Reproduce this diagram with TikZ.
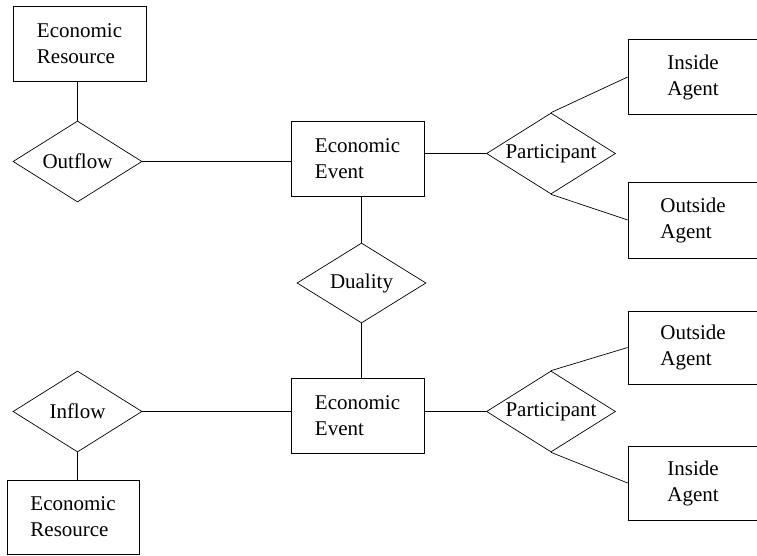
\documentclass[tikz,border=0pt]{standalone}
\usepackage{fontspec}
\setmainfont{Liberation Serif}
\usepackage{tikz}
\usetikzlibrary{shapes.geometric}

\tikzset{
  entity/.style={draw, rectangle, line width=0.7pt, minimum width=133pt, minimum height=75pt, inner sep=0pt, align=left},
  agent/.style={entity, minimum width=130pt},
  relation/.style={draw, diamond, line width=0.7pt, minimum width=129pt, minimum height=81pt, inner sep=0pt, shape aspect=1.6},
  link/.style={line width=0.7pt}
}

\begin{document}
\begin{tikzpicture}[x=1pt,y=1pt,font=\fontsize{21}{26}\selectfont]
\useasboundingbox (0,0) rectangle (757,555);
\node [entity] (res1) at (79.5,511.5) {Economic\\Resource};
\node [relation] (outflow) at (77.5,393.5) {Outflow};
\node [entity] (event1) at (357.5,396.5) {Economic\\Event};
\node [relation] (part1) at (551,401.5) {Participant};
\node [agent] (inside1) at (693,478) {Inside\\Agent};
\node [agent, minimum height=76pt] (outside1) at (693,335) {Outside\\Agent};
\node [relation, minimum height=80pt] (duality) at (361.5,272) {Duality};
\node [entity] (event2) at (357.5,139.5) {Economic\\Event};
\node [relation] (inflow) at (77.5,143.5) {Inflow};
\node [entity, minimum width=132pt, minimum height=74pt] (res2) at (73,38) {Economic\\Resource};
\node [relation] (part2) at (551,143.5) {Participant};
\node [agent, minimum height=73pt] (outside2) at (693,207.5) {Outside\\Agent};
\node [agent, minimum height=74pt] (inside2) at (693,72) {Inside\\Agent};

\draw [link] (outflow.north) -- (outflow.north |- res1.south);
\draw [link] (outflow.east) -- (outflow.east -| event1.west);
\draw [link] (part1.west -| event1.east) -- (part1.west);
\draw [link] (part1.north) -- (inside1.west);
\draw [link] (part1.south) -- (outside1.west);
\draw [link] (duality.north) -- (duality.north |- event1.south);
\draw [link] (duality.south) -- (duality.south |- event2.north);
\draw [link] (inflow.east) -- (inflow.east -| event2.west);
\draw [link] (inflow.south) -- (inflow.south |- res2.north);
\draw [link] (part2.west -| event2.east) -- (part2.west);
\draw [link] (part2.north) -- (outside2.west);
\draw [link] (part2.south) -- (inside2.west);
\end{tikzpicture}
\end{document}
